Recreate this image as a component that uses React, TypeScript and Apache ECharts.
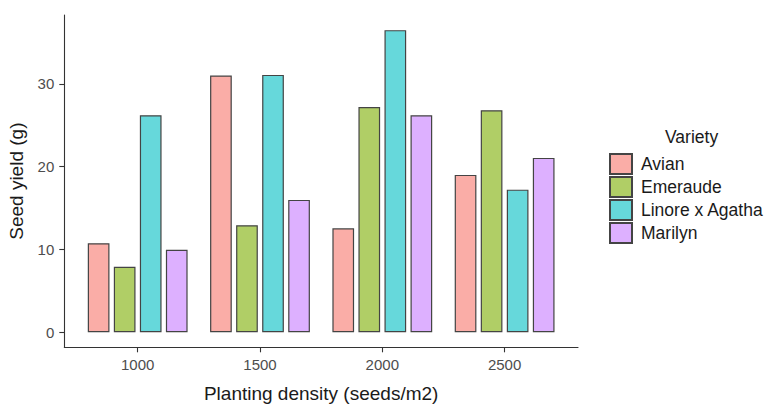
import React, { useEffect, useRef } from "react";
import * as echarts from "echarts";

const densities = ["1000", "1500", "2000", "2500"];
const varieties = ["Avian", "Emeraude", "Linore x Agatha", "Marilyn"];
const avian = [10.75, 31.0, 12.55, 19.0];
const emeraude = [7.9, 12.92, 27.2, 26.8];
const linore = [26.2, 31.07, 36.47, 17.22];
const marilyn = [9.95, 15.98, 26.2, 21.05];
const colors = ["#FAADA7", "#B0CE66", "#66D8DB", "#DDB0FF"];
const yTicks = [0, 10, 20, 30];

export default function App() {
  const ref = useRef<HTMLDivElement>(null);
  useEffect(() => {
    if (!ref.current) return;
    document.body.style.margin = "0";
    const chart = echarts.init(ref.current, null, { renderer: "svg" });
    const values = [avian, emeraude, linore, marilyn];
    const xPos = densities.map((_, i) => i + 1);
    const font = "Liberation Sans, Arial, Helvetica, sans-serif";
    chart.setOption({
      animation: false,
      textStyle: { fontFamily: font },
      grid: { left: 64.3, right: 197, top: 15, bottom: 56.7, containLabel: false, outerBoundsMode: "none" },
      title: {
        text: "Variety",
        left: 665,
        top: 127,
        padding: 0,
        textStyle: { fontFamily: font, fontSize: 17.5, fontWeight: "normal", color: "#1a1a1a", lineHeight: 20 },
      },
      legend: {
        orient: "vertical",
        left: 609,
        top: 153,
        padding: 0,
        itemWidth: 22,
        itemHeight: 20,
        itemGap: 1,
        icon: "rect",
        data: varieties,
        textStyle: { fontFamily: font, fontSize: 17.5, color: "#1a1a1a", padding: [0, 0, 0, 4] },
      },
      xAxis: {
        type: "value",
        min: 0.4,
        max: 4.6,
        name: "Planting density (seeds/m2)",
        nameLocation: "middle",
        nameGap: 37,
        nameTextStyle: { fontFamily: font, fontSize: 19, color: "#1a1a1a" },
        axisLine: { show: true, onZero: false, lineStyle: { color: "#333", width: 1.1 } },
        axisTick: { show: true, length: 5, customValues: xPos, lineStyle: { color: "#333", width: 1.1 } },
        axisLabel: {
          customValues: xPos,
          margin: 10,
          fontSize: 15,
          color: "#4d4d4d",
          fontFamily: font,
          formatter: (v: number) => densities[Math.round(v) - 1] ?? "",
        },
        splitLine: { show: false },
      },
      yAxis: {
        type: "value",
        min: -1.81,
        max: 38.3,
        name: "Seed yield (g)",
        nameLocation: "middle",
        nameGap: 38,
        nameTextStyle: { fontFamily: font, fontSize: 19, color: "#1a1a1a" },
        axisLine: { show: true, onZero: false, lineStyle: { color: "#333", width: 1.1 } },
        axisTick: { show: true, length: 5, customValues: yTicks, lineStyle: { color: "#333", width: 1.1 } },
        axisLabel: { customValues: yTicks, margin: 10, fontSize: 15, color: "#4d4d4d", fontFamily: font },
        splitLine: { show: false },
      },
      series: varieties.map((name, k) => ({
        name,
        type: "bar",
        barWidth: 21.7,
        barGap: "20%",
        itemStyle: { color: colors[k], borderColor: "#444", borderWidth: 1.2 },
        data: values[k].map((v, i) => [xPos[i], v]),
      })),
    });
    return () => chart.dispose();
  }, []);
  return <div ref={ref} style={{ width: 775, height: 404 }} />;
}
